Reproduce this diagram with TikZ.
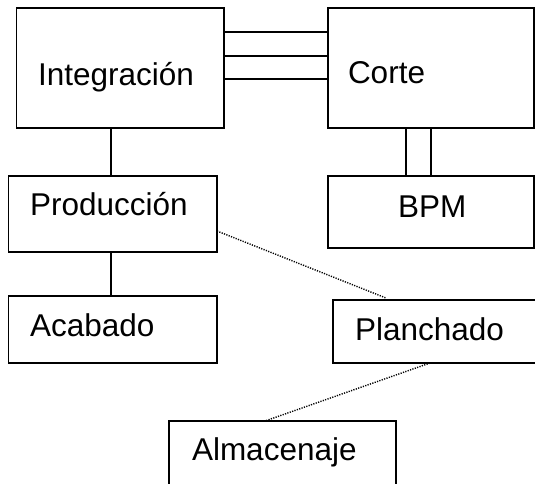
\documentclass[tikz,border=0pt]{standalone}
\usepackage{fontspec}
\setmainfont{Liberation Sans}
\begin{document}
\begin{tikzpicture}[x=1pt,y=-1pt,
  box/.style={draw=black,line width=1.2pt,rectangle,inner sep=0pt,outer sep=0pt,anchor=north west},
  lbl/.style={inner sep=0pt,outer sep=0pt,anchor=base west,font=\fontsize{31.5}{36}\selectfont},
  link/.style={draw=black,line width=1.2pt},
  dotlink/.style={draw=black,line width=1.4pt,dash pattern=on 1.2pt off 1.3pt}]
\useasboundingbox (0,0) rectangle (535,483);
\clip (0,0) rectangle (535,483);
% boxes
\node[box,minimum width=207.3pt,minimum height=120pt] (int) at (16.7,8) {};
\node[box,minimum width=206pt,minimum height=120pt] (cor) at (328,8) {};
\node[box,minimum width=208.7pt,minimum height=76pt] (pro) at (8.3,176) {};
\node[box,minimum width=206pt,minimum height=72pt] (bpm) at (328,176) {};
\node[box,minimum width=208.7pt,minimum height=67pt] (aca) at (8.3,296) {};
\node[box,minimum width=240pt,minimum height=63pt] (pla) at (333,300) {};
\node[box,minimum width=227pt,minimum height=100pt] (alm) at (169,421) {};
% texts
\node[lbl] (tint) at (38,85) {Integración};
\node[lbl] (tcor) at (348,83) {Corte};
\node[lbl] (tpro) at (30,215) {Producción};
\node[lbl] (tbpm) at (398,217) {BPM};
\node[lbl] (taca) at (30,336) {Acabado};
\node[lbl] (tpla) at (355,340) {Planchado};
\node[lbl] (talm) at (192,460) {Almacenaje};
% connectors
\foreach \o in {24,48,71}{
  \draw[link] ([yshift=-\o pt]int.north east) -- ([yshift=-\o pt]int.north east -| cor.west);
}
\draw[link] ([xshift=-1.6pt]pro.north) -- ([xshift=-1.6pt]pro.north |- int.south);
\draw[link] ([xshift=-1.6pt]aca.north) -- ([xshift=-1.6pt]aca.north |- pro.south);
\foreach \o in {78,103}{
  \draw[link] ([xshift=\o pt]cor.south west) -- ([xshift=\o pt]cor.south west |- bpm.north);
}
\draw[dotlink] ([yshift=21pt]pro.south east) -- ([xshift=53pt,yshift=2pt]pla.north west);
\draw[dotlink] ([xshift=97pt]pla.south west) -- ([xshift=96pt]alm.north west);
\end{tikzpicture}
\end{document}
